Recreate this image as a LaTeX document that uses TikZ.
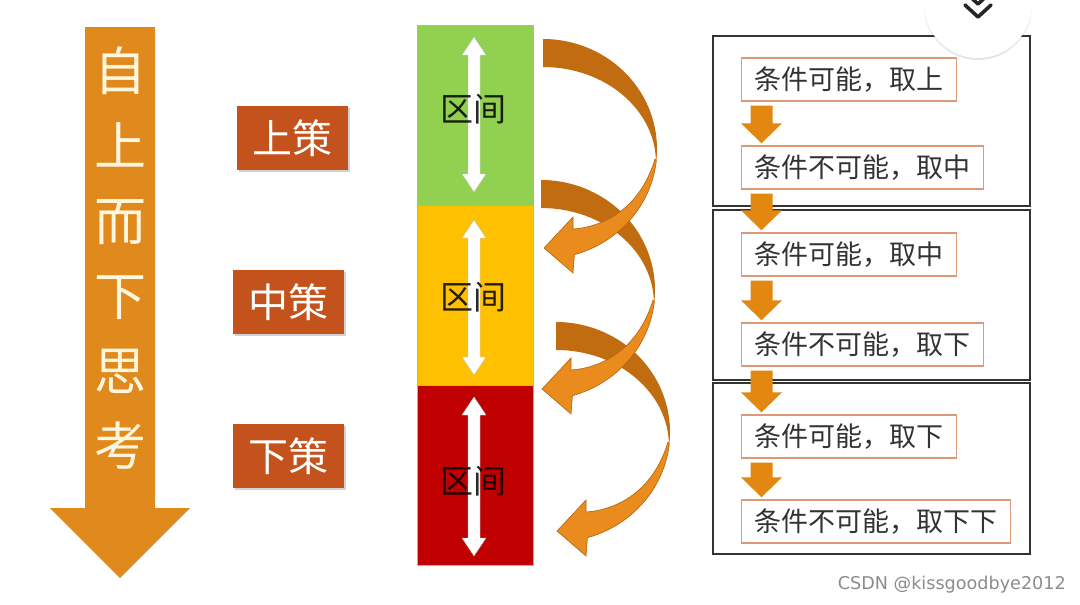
\documentclass[tikz,border=0pt]{standalone}
\usepackage{fontspec}
\newfontfamily\cjk{Noto Sans CJK SC}
\newfontfamily\wmfont{DejaVu Sans}
\usetikzlibrary{calc,shadows}
\definecolor{bigor}{HTML}{E08A1E}
\definecolor{strat}{HTML}{C4521C}
\definecolor{cgreen}{HTML}{92D050}
\definecolor{cyellow}{HTML}{FFC000}
\definecolor{cred}{HTML}{C00000}
\definecolor{bdark}{HTML}{C26C12}
\definecolor{blight}{HTML}{EA8B1E}
\definecolor{bedge}{HTML}{B5640C}
\definecolor{smallor}{HTML}{E2870F}
\definecolor{itemedge}{HTML}{DC9A78}
\definecolor{boxline}{HTML}{333333}
\definecolor{cream}{HTML}{FFF6DE}
\newcommand\smalldown[2]{%
  \fill[smallor] ($(#1.south west)+(9.5,4)$) -- ($(#1.south west)+(31.5,4)$)
    -- ($(#2.north west)+(31.5,-22)$) -- ($(#2.north west)+(41,-22)$)
    -- ($(#2.north west)+(20.5,-2)$) -- ($(#2.north west)+(0,-22)$)
    -- ($(#2.north west)+(9.5,-22)$) -- cycle;}
\newcommand\vdbl[3]{%
  \fill[white,draw=black!25,line width=0.4pt] (#1,#2) -- ++(12,18) -- ++(-6,0)
    -- (#1+6,#3-18) -- ++(6,0) -- (#1,#3) -- ++(-12,-18) -- ++(6,0)
    -- (#1-6,#2+18) -- ++(-6,0) -- cycle;}
\tikzset{
 stratbox/.style={fill=strat, text=white, minimum width=111pt, minimum height=64pt, inner sep=0pt,
   font=\cjk\fontsize{40}{40}\selectfont,
   drop shadow={opacity=0.35, shadow xshift=2pt, shadow yshift=-2pt}},
 colbox/.style={minimum width=116pt, minimum height=180pt, inner sep=0pt, draw=black!30, line width=0.6pt},
 zone/.style={font=\cjk\fontsize{33}{33}\selectfont, text=black, text opacity=0.85},
 obox/.style={draw=boxline, line width=1.6pt, minimum width=317pt, inner sep=0pt},
 item/.style={draw=itemedge, line width=1.4pt, fill=white, text=black!80,
   font=\cjk\fontsize{27}{27}\selectfont, inner xsep=13pt, inner ysep=0pt,
   minimum height=43pt, anchor=west},
 pics/bendback/.style={code={
   \fill[bdark] (0,-110) arc[start angle=-90, end angle=7, x radius=114, y radius=110]
     -- (113,14) arc[start angle=0, end angle=-90, x radius=113, y radius=96] -- cycle;}},
 pics/bendfront/.style={code={
   \filldraw[fill=blight, draw=bedge, line width=0.6pt] (113.3,12)
     arc[start angle=6.3, end angle=74, x radius=114, y radius=110]
     -- (30,124) -- (1,99) -- (30,68) -- (30,80)
     .. controls (60,78) and (97,60) .. (112,10) -- cycle;}}
}
\begin{document}
\begin{tikzpicture}[x=1pt,y=-1pt]
\useasboundingbox (0,0) rectangle (1080,605);
\fill[white] (0,0) rectangle (1080,605);
% left big arrow
\fill[bigor] (85,27) -- (155,27) -- (155,508) -- (190,508) -- (120,578) -- (50,508) -- (85,508) -- cycle;
\node[font=\cjk\fontsize{52}{75}\selectfont, text=cream, align=center, inner sep=0pt] (vt) at (120,258) {自\\上\\而\\下\\思\\考};
% strategies
\node[stratbox] (s1) at (292,138) {上策};
\node[stratbox] (s2) at (288,302) {中策};
\node[stratbox] (s3) at (288,456) {下策};
% column
\node[colbox, fill=cgreen] (cg) at (475,115) {};
\node[colbox, fill=cyellow] (cy) at (475,295) {};
\node[colbox, fill=cred] (cr) at (475,475) {};
\vdbl{474}{37}{192}
\vdbl{474}{220}{375}
\vdbl{474}{397}{556}
\node[zone] (z1) at (473,109) {区间};
\node[zone] (z2) at (473,297) {区间};
\node[zone] (z3) at (473,481) {区间};
% curved arrows
\pic at (543,149) {bendback};
\pic at (541,290) {bendback};
\pic at (556,432) {bendback};
\pic at (543,149) {bendfront};
\pic at (541,290) {bendfront};
\pic at (556,432) {bendfront};
% right boxes
\node[obox, minimum height=170pt] (b1) at (871.5,121) {};
\node[obox, minimum height=170pt] (b2) at (871.5,295) {};
\node[obox, minimum height=171pt] (b3) at (871.5,468.5) {};
\node[item] (i1) at (741,79.5) {条件可能，取上};
\node[item] (i2) at (741,167.5) {条件不可能，取中};
\node[item] (i3) at (741,254.5) {条件可能，取中};
\node[item] (i4) at (741,344.5) {条件不可能，取下};
\node[item] (i5) at (741,436.5) {条件可能，取下};
\node[item] (i6) at (741,521.5) {条件不可能，取下下};
\smalldown{i1}{i2}
\smalldown{i2}{i3}
\smalldown{i3}{i4}
\smalldown{i4}{i5}
\smalldown{i5}{i6}
% top-right circle button
\node[circle, fill=white, minimum size=108pt, inner sep=0pt,
  drop shadow={opacity=0.2, shadow xshift=0pt, shadow yshift=-2pt}] (cb) at (978,4) {};
\draw[line width=3.6pt, black!85, line cap=round, line join=round]
  ($(cb.center)+(-13,1)$) -- ($(cb.center)+(0,13)$) -- ($(cb.center)+(13,1)$);
\draw[line width=3.6pt, black!85, line cap=round, line join=round]
  ($(cb.center)+(-13,-12)$) -- (cb.center) -- ($(cb.center)+(13,-12)$);
% watermark
\node[font=\wmfont\fontsize{17.6}{18}\selectfont, text=black!45, anchor=east, inner sep=0pt] (wm) at (1066,585) {CSDN @kissgoodbye2012};
\end{tikzpicture}
\end{document}
